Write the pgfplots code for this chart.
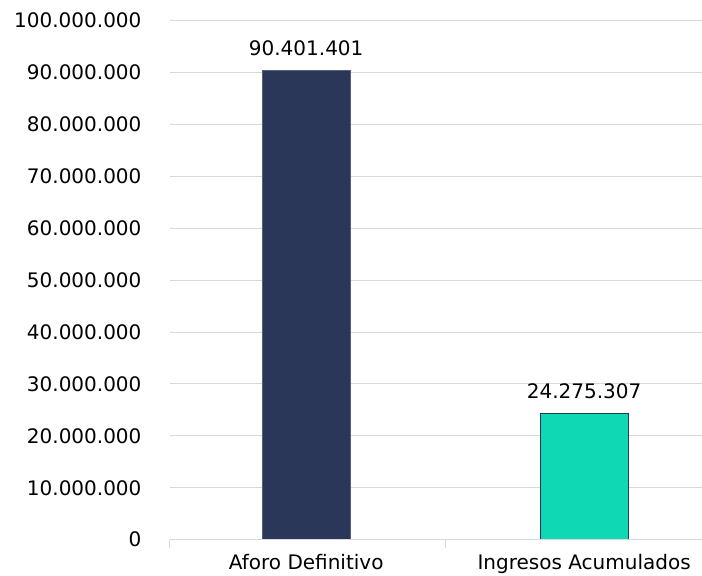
\documentclass[border=0pt]{standalone}
\usepackage{pgfplots}
\pgfplotsset{compat=1.18}
\usepackage{fontspec}
\setmainfont{DejaVu Sans}
\definecolor{navybar}{RGB}{42,55,89}
\definecolor{tealbar}{RGB}{14,217,180}
\definecolor{gridgray}{RGB}{217,217,217}
\begin{document}
\begin{tikzpicture}
\begin{axis}[
  scale only axis,
  width=532pt, height=519pt,
  xmin=-0.49, xmax=1.424,
  ymin=0, ymax=100000000,
  axis line style={draw=none},
  axis x line*=bottom,
  axis y line*=left,
  ytick={0,10000000,...,100000000},
  ymajorgrids,
  grid style={gridgray, line width=1pt},
  yticklabel style={font=\fontsize{20}{20}\selectfont, xshift=-25pt},
  scaled y ticks=false,
  y tick label style={/pgf/number format/.cd, fixed, 1000 sep={.}, assume math mode=true},
  major y tick style={draw=none},
  xtick={0,1},
  xticklabels={Aforo Definitivo, Ingresos Acumulados},
  xticklabel style={font=\fontsize{20}{20}\selectfont, yshift=-7pt},
  major x tick style={draw=none},
  bar width=0.317,
  ybar,
  nodes near coords,
  every node near coord/.append style={font=\fontsize{20}{20}\selectfont, black, yshift=11pt,
    /pgf/number format/.cd, fixed, 1000 sep={.}, assume math mode=true},
  clip=false,
]
\addplot[fill=navybar, draw=navybar!80!white, line width=0.8pt, bar shift=0pt] coordinates {(0,90401401)};
\addplot[fill=tealbar, draw=navybar, line width=1pt, bar shift=0pt] coordinates {(1,24275307)};
\draw[gridgray, line width=1pt] (axis cs:-0.49,0) -- (axis cs:1.424,0);
\draw[gridgray, line width=1pt] (axis cs:-0.49,0) -- ([yshift=-8pt]axis cs:-0.49,0);
\draw[gridgray, line width=1pt] (axis cs:0.5,0) -- ([yshift=-8pt]axis cs:0.5,0);
\end{axis}
\pgfresetboundingbox
\useasboundingbox ([xshift=-170pt,yshift=-35.5pt]current axis.south west) rectangle ([yshift=20.7pt]current axis.north east);
\end{tikzpicture}
\end{document}
